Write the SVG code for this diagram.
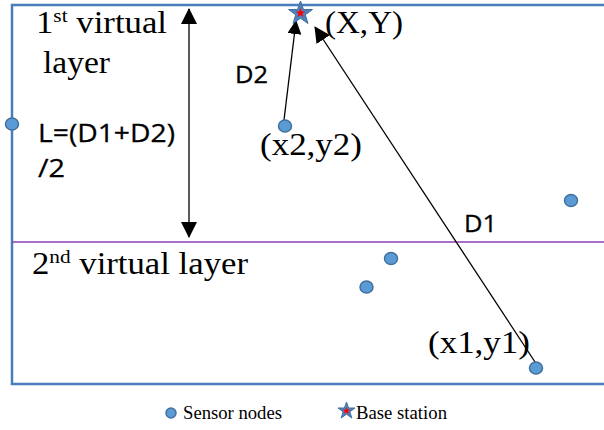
<svg xmlns="http://www.w3.org/2000/svg" width="604" height="430" viewBox="0 0 604 430">
<style>
.serif{font-family:"Liberation Serif","Times New Roman",serif;fill:#000}
.sans{font-family:"Open Sans","DejaVu Sans",sans-serif;fill:#000}
.node{fill:#5b9bd5;stroke:#41719c;stroke-width:1.5}
.conn{stroke:#000;stroke-width:1.3;fill:none}
.star{fill:#4f81bd;stroke:#41719c;stroke-width:1}
.starin{fill:#ff0000}
</style>
<defs>
<marker id="ah" markerUnits="userSpaceOnUse" markerWidth="16" markerHeight="16" refX="15" refY="8" orient="auto-start-reverse">
<path d="M0,0 L16,8 L0,16 Z" fill="#000"/>
</marker>
<marker id="ah2" markerUnits="userSpaceOnUse" markerWidth="14" markerHeight="14" refX="13" refY="7" orient="auto">
<path d="M0,0 L14,7 L0,14 Z" fill="#000"/>
</marker>
</defs>
<g id="field">
<rect x="12" y="5" width="600" height="379" fill="none" stroke="#4a7ebb" stroke-width="2.5"/>
<line x1="12" y1="242" x2="604" y2="242" stroke="#8a3fb5" stroke-width="1.5"/>
</g>
<g id="labels">
<text class="serif" x="36" y="33" font-size="31" textLength="131" lengthAdjust="spacingAndGlyphs">1<tspan font-size="19" dy="-11">st</tspan><tspan dy="11"> virtual</tspan></text>
<text class="serif" x="43" y="73" font-size="31" textLength="67" lengthAdjust="spacingAndGlyphs">layer</text>
<text class="sans" x="38" y="142" font-size="26" stroke="#000" stroke-width="0.3" textLength="137" lengthAdjust="spacingAndGlyphs">L=(D1+D2)</text>
<text class="sans" x="38" y="177" font-size="26" stroke="#000" stroke-width="0.3" textLength="27" lengthAdjust="spacingAndGlyphs">/2</text>
<text class="sans" x="235" y="83" font-size="24" stroke="#000" stroke-width="0.3" textLength="33" lengthAdjust="spacingAndGlyphs">D2</text>
<text class="sans" x="464" y="232" font-size="24" stroke="#000" stroke-width="0.3" textLength="33" lengthAdjust="spacingAndGlyphs">D1</text>
<text class="serif" x="32" y="274" font-size="31" textLength="216" lengthAdjust="spacingAndGlyphs">2<tspan font-size="19" dy="-11">nd</tspan><tspan dy="11"> virtual layer</tspan></text>
</g>
<g id="connectors">
<line class="conn" x1="189" y1="9" x2="189" y2="237" marker-start="url(#ah)" marker-end="url(#ah)"/>
<line class="conn" x1="284" y1="120" x2="296" y2="21" marker-end="url(#ah2)"/>
<line class="conn" x1="537" y1="365" x2="315" y2="27" marker-end="url(#ah)"/>
</g>
<g id="base-station">
<polygon class="star" points="300.5,1 303.5,9.5 312.5,9.5 305.3,14.8 308.0,23.5 300.5,18.2 293.0,23.5 295.7,14.8 288.5,9.5 297.5,9.5"/>
<polygon class="starin" points="300.5,8 301.7,11.4 305.3,11.4 302.4,13.5 303.5,17 300.5,14.9 297.5,17 298.6,13.5 295.7,11.4 299.3,11.4"/>
<text class="serif" x="325" y="33" font-size="31" textLength="78" lengthAdjust="spacingAndGlyphs">(X,Y)</text>
</g>
<g id="node-left"><ellipse class="node" cx="12" cy="124" rx="6.5" ry="6"/></g>
<g id="node-x2y2"><ellipse class="node" cx="285" cy="126" rx="6.5" ry="6"/>
<text class="serif" x="260" y="155" font-size="31" textLength="102" lengthAdjust="spacingAndGlyphs">(x2,y2)</text></g>
<g id="node-a"><ellipse class="node" cx="571" cy="200.5" rx="6.5" ry="6"/></g>
<g id="node-b"><ellipse class="node" cx="391" cy="258.5" rx="6.5" ry="6"/></g>
<g id="node-c"><ellipse class="node" cx="366.5" cy="287" rx="6.5" ry="6"/></g>
<g id="node-x1y1"><ellipse class="node" cx="536" cy="368" rx="6.5" ry="6"/>
<text class="serif" x="428" y="353" font-size="31" textLength="102" lengthAdjust="spacingAndGlyphs">(x1,y1)</text></g>
<g id="legend">
<ellipse class="node" cx="171" cy="413" rx="5" ry="5"/>
<text class="serif" x="183" y="419" font-size="18" textLength="99" lengthAdjust="spacingAndGlyphs">Sensor nodes</text>
<polygon class="star" points="346.5,402 348.6,408 355,408 349.9,411.8 351.8,418 346.5,414.2 341.2,418 343.1,411.8 338,408 344.4,408"/>
<polygon class="starin" points="346.5,407 347.5,409.7 350.3,409.7 348.1,411.4 348.9,414.1 346.5,412.5 344.1,414.1 344.9,411.4 342.7,409.7 345.5,409.7"/>
<text class="serif" x="356" y="419" font-size="18" textLength="91" lengthAdjust="spacingAndGlyphs">Base station</text>
</g>
</svg>
